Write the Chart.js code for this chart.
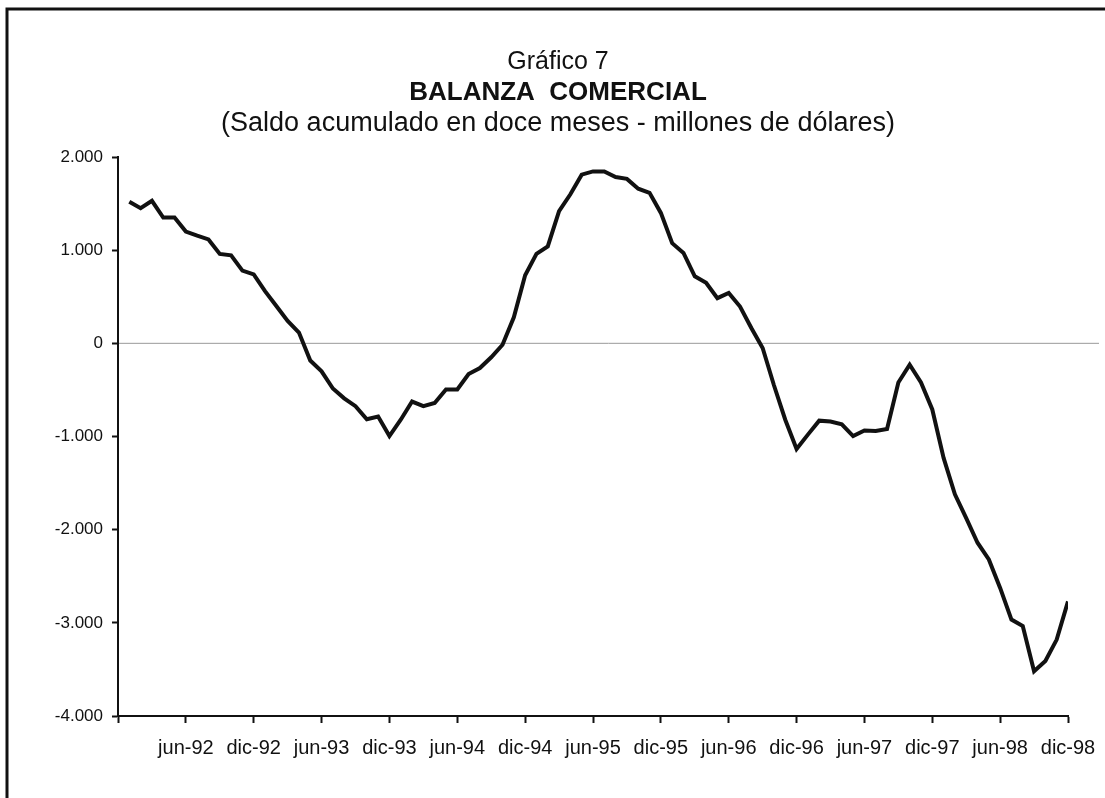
<!DOCTYPE html>
<html>
<head>
<meta charset="utf-8">
<script src="https://cdn.jsdelivr.net/npm/chart.js@4/dist/chart.umd.min.js"></script>
<style>
  html, body { margin: 0; padding: 0; background: #fff; }
  #wrap { width: 1105px; height: 798px; }
</style>
</head>
<body>
<div id="wrap"><canvas id="grafico"></canvas></div>
<script>
// meses y años del eje
var meses = ['ene', 'feb', 'mar', 'abr', 'may', 'jun', 'jul', 'ago', 'sep', 'oct', 'nov', 'dic'];
var anios = ['92', '93', '94', '95', '96', '97', '98'];

// saldo acumulado en doce meses (millones de dólares), ene..dic de cada año
var saldo92 = [1520, 1450, 1530, 1350, 1350, 1200, 1155, 1115, 960, 945, 780, 740];
var saldo93 = [560, 400, 240, 115, -185, -300, -485, -590, -675, -815, -785, -995];
var saldo94 = [-820, -625, -675, -640, -495, -495, -330, -265, -150, -15, 280, 730];
var saldo95 = [960, 1040, 1420, 1600, 1810, 1845, 1845, 1785, 1765, 1660, 1615, 1400];
var saldo96 = [1075, 970, 720, 650, 485, 540, 395, 165, -50, -450, -820, -1135];
var saldo97 = [-980, -830, -840, -870, -995, -935, -940, -920, -420, -230, -420, -710];
var saldo98 = [-1230, -1620, -1875, -2140, -2320, -2625, -2965, -3035, -3520, -3410, -3180, -2770];

var yTicks = [-4000, -3000, -2000, -1000, 0, 1000, 2000];

var titulo = 'Gráfico 7';
var titulo2 = 'BALANZA  COMERCIAL';
var subtitulo = '(Saldo acumulado en doce meses - millones de dólares)';

var categorias = [];
anios.forEach(function (a) {
    meses.forEach(function (m) { categorias.push(m + '-' + a); });
});
var saldos = [].concat(saldo92, saldo93, saldo94, saldo95, saldo96, saldo97, saldo98);
// x = 0 corresponde a dic-91 (inicio del eje)
var puntos = saldos.map(function (v, i) { return { x: i + 1, y: v }; });

var FUENTE = "'Liberation Sans', Arial, sans-serif";

function formatoMiles(v) {
    var s = Math.abs(v).toString().replace(/\B(?=(\d{3})+(?!\d))/g, '.');
    return (v < 0 ? '-' : '') + s;
}

// marco, títulos y línea del cero
var decorado = {
    id: 'decorado',
    beforeDraw: function (chart) {
        var ctx = chart.ctx;
        ctx.save();
        ctx.fillStyle = '#fff';
        ctx.fillRect(0, 0, chart.width, chart.height);
        ctx.strokeStyle = '#111';
        ctx.lineWidth = 3;
        ctx.beginPath();
        ctx.moveTo(7, chart.height + 5);
        ctx.lineTo(7, 9);
        ctx.lineTo(chart.width + 5, 9);
        ctx.stroke();

        var cx = 558;
        ctx.fillStyle = '#111';
        ctx.textAlign = 'center';
        ctx.textBaseline = 'middle';
        ctx.font = '25px ' + FUENTE;
        ctx.fillText(titulo, cx, 62);
        ctx.font = 'bold 26px ' + FUENTE;
        ctx.fillText(titulo2, cx, 93);
        ctx.font = '27px ' + FUENTE;
        ctx.fillText(subtitulo, cx, 124);

        var y0 = chart.scales.y.getPixelForValue(0);
        ctx.strokeStyle = '#9a9a9a';
        ctx.lineWidth = 1;
        ctx.beginPath();
        ctx.moveTo(chart.chartArea.left, y0);
        ctx.lineTo(chart.width - 6, y0);
        ctx.stroke();
        ctx.restore();
    }
};

var ctx = document.getElementById('grafico').getContext('2d');
new Chart(ctx, {
    type: 'line',
    data: {
        datasets: [{
            label: 'Saldo',
            data: puntos,
            borderColor: '#111',
            borderWidth: 4,
            pointRadius: 0,
            tension: 0,
            fill: false
        }]
    },
    options: {
        responsive: true,
        maintainAspectRatio: false,
        animation: false,
        layout: { padding: { top: 157, right: 37, bottom: 0, left: 0 } },
        plugins: {
            legend: { display: false },
            title: { display: false },
            tooltip: { enabled: false }
        },
        scales: {
            x: {
                type: 'linear',
                min: 0,
                max: categorias.length,
                afterFit: function (s) {
                    s.height = 82;
                    s.paddingLeft = 0;
                    s.paddingRight = 0;
                },
                border: { color: '#111', width: 2 },
                grid: { drawOnChartArea: false, tickLength: 7, tickColor: '#111', tickWidth: 2 },
                ticks: {
                    stepSize: 6,
                    autoSkip: false,
                    maxRotation: 0,
                    padding: 13,
                    color: '#111',
                    font: { family: FUENTE, size: 20 },
                    callback: function (v) { return v > 0 ? categorias[v - 1] : ''; }
                }
            },
            y: {
                min: yTicks[0],
                max: yTicks[yTicks.length - 1],
                afterFit: function (s) { s.width = 118; },
                afterBuildTicks: function (s) { s.ticks = yTicks.map(function (v) { return { value: v }; }); },
                border: { color: '#111', width: 2 },
                grid: { drawOnChartArea: false, tickLength: 6, tickColor: '#111', tickWidth: 2 },
                ticks: {
                    padding: 9,
                    color: '#111',
                    font: { family: FUENTE, size: 17 },
                    callback: function (v) { return formatoMiles(v); }
                }
            }
        }
    },
    plugins: [decorado]
});
</script>
</body>
</html>
